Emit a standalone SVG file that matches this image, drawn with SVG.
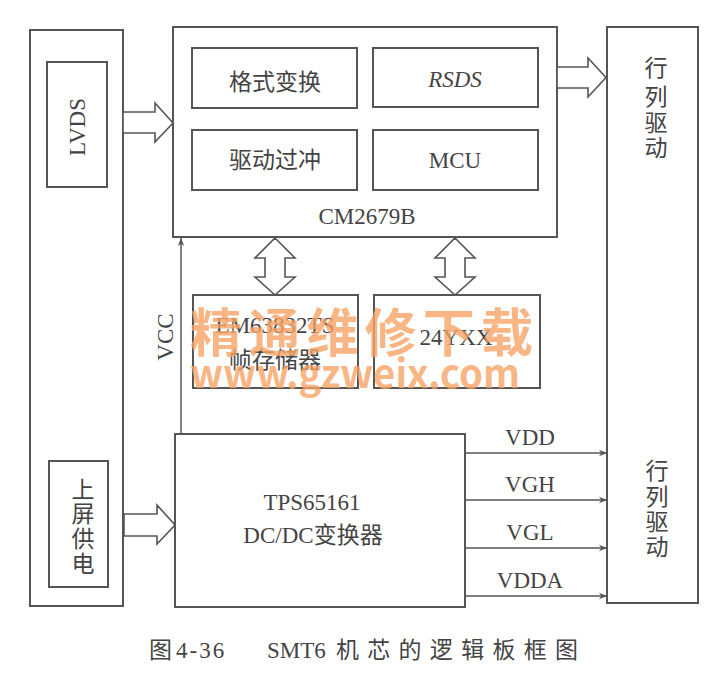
<svg xmlns="http://www.w3.org/2000/svg" width="720" height="690" viewBox="0 0 720 690">
<defs>
<style>
.box{fill:none;stroke:#555;stroke-width:2}
.hol{fill:#fff;stroke:#555;stroke-width:1.6;stroke-linejoin:miter}
.ln{fill:none;stroke:#555;stroke-width:1.5}
.cn{font-family:"Noto Sans CJK SC","Noto Sans",sans-serif;fill:#444;font-size:23px}
.lt{font-family:"Liberation Serif","Noto Sans CJK SC",serif;fill:#444;font-size:23px}
.wm{font-family:"Noto Sans CJK SC",sans-serif;fill:#f7a264;fill-opacity:0.8;font-weight:bold}
</style>
<marker id="ah" viewBox="0 0 10 10" refX="10" refY="5" markerWidth="10" markerHeight="8" markerUnits="userSpaceOnUse" orient="auto">
<path d="M0,1 L10,5 L0,9 L3,5 Z" fill="#555"/>
</marker>
</defs>
<rect width="720" height="690" fill="#fff"/>

<g id="left-panel">
<rect class="box" x="30" y="30" width="93" height="576"/>
</g>
<g id="lvds">
<rect class="box" x="47" y="62" width="60" height="125"/>
<text class="lt" transform="translate(85,127) rotate(-90)" text-anchor="middle">LVDS</text>
</g>
<g id="power-in">
<rect class="box" x="49" y="461" width="59" height="126"/>
<text class="cn" font-size="22" text-anchor="middle" x="83" y="498">上</text>
<text class="cn" font-size="22" text-anchor="middle" x="83" y="522">屏</text>
<text class="cn" font-size="22" text-anchor="middle" x="83" y="547">供</text>
<text class="cn" font-size="22" text-anchor="middle" x="83" y="572">电</text>
</g>

<g id="cm2679b">
<rect class="box" x="173" y="27" width="384" height="210"/>
<text class="lt" x="367" y="224" text-anchor="middle">CM2679B</text>
</g>
<g id="format">
<rect class="box" x="192" y="48" width="165" height="60"/>
<text class="cn" x="275" y="90" text-anchor="middle">格式变换</text>
</g>
<g id="rsds">
<rect class="box" x="373" y="48" width="165" height="59"/>
<text class="lt" x="455" y="87" text-anchor="middle" font-style="italic">RSDS</text>
</g>
<g id="overdrive">
<rect class="box" x="192" y="130" width="165" height="60"/>
<text class="cn" x="275" y="168" text-anchor="middle">驱动过冲</text>
</g>
<g id="mcu">
<rect class="box" x="373" y="130" width="165" height="60"/>
<text class="lt" x="455" y="168" text-anchor="middle">MCU</text>
</g>

<g id="framebuffer">
<rect class="box" x="193" y="295" width="165" height="93"/>
<text class="lt" x="275" y="333" text-anchor="middle">EM63832TS</text>
<text class="cn" x="275" y="368" text-anchor="middle">帧存储器</text>
</g>
<g id="eeprom">
<rect class="box" x="374" y="295" width="166" height="93"/>
<text class="lt" x="456" y="345" text-anchor="middle">24YXX</text>
</g>

<g id="tps65161">
<rect class="box" x="175" y="434" width="290" height="173"/>
<text class="lt" x="312" y="510" text-anchor="middle">TPS65161</text>
<text class="lt" x="313" y="543" text-anchor="middle">DC/DC<tspan class="cn">变换器</tspan></text>
</g>

<g id="driver">
<rect class="box" x="607" y="27" width="91" height="576"/>
<text class="cn" text-anchor="middle" x="656" y="76">行</text>
<text class="cn" text-anchor="middle" x="656" y="105">列</text>
<text class="cn" text-anchor="middle" x="656" y="131">驱</text>
<text class="cn" text-anchor="middle" x="656" y="156">动</text>
<text class="cn" text-anchor="middle" x="657" y="479">行</text>
<text class="cn" text-anchor="middle" x="657" y="505">列</text>
<text class="cn" text-anchor="middle" x="657" y="530">驱</text>
<text class="cn" text-anchor="middle" x="657" y="555">动</text>
</g>

<g id="connectors">
<polygon class="hol" points="123,112 155,112 155,103 173,123 155,142 155,133 123,133"/>
<polygon class="hol" points="557,67 588,67 588,58 606,77.5 588,97 588,88 557,88"/>
<polygon class="hol" points="124,514 157,514 157,505 175,525 157,544 157,536 124,536"/>
<polygon class="hol" points="275,238 295,258 285,258 285,277 295,277 275,295 255,277 265,277 265,258 255,258"/>
<polygon class="hol" points="455,238 475,258 465,258 465,277 475,277 455,295 435,277 445,277 445,258 435,258"/>
<line class="ln" x1="181" y1="434" x2="181" y2="238" marker-end="url(#ah)"/>
<text class="lt" transform="translate(173,337) rotate(-90)" text-anchor="middle">VCC</text>
<line class="ln" x1="465" y1="453" x2="607" y2="453" marker-end="url(#ah)"/>
<line class="ln" x1="465" y1="500" x2="607" y2="500" marker-end="url(#ah)"/>
<line class="ln" x1="465" y1="548" x2="607" y2="548" marker-end="url(#ah)"/>
<line class="ln" x1="465" y1="596" x2="607" y2="596" marker-end="url(#ah)"/>
<text class="lt" x="530" y="445" text-anchor="middle">VDD</text>
<text class="lt" x="530" y="492" text-anchor="middle">VGH</text>
<text class="lt" x="530" y="540" text-anchor="middle">VGL</text>
<text class="lt" x="530" y="588" text-anchor="middle">VDDA</text>
</g>

<g id="caption">
<text class="cn" font-size="22" x="149" y="658">图</text>
<text class="lt" font-size="24" x="176" y="658" letter-spacing="2">4-36</text>
<text class="lt" font-size="24" x="267" y="658">SMT6</text>
<text class="cn" font-size="22" x="336" y="658" textLength="242" lengthAdjust="spacing">机芯的逻辑板框图</text>
</g>

<g id="watermark">
<text class="wm" x="190" y="352" font-size="52" textLength="343" lengthAdjust="spacing">精通维修下载</text>
<text class="wm" x="190" y="388" font-size="40" font-family="Liberation Sans,sans-serif" textLength="330" lengthAdjust="spacingAndGlyphs">www.gzweix.com</text>
</g>
</svg>
